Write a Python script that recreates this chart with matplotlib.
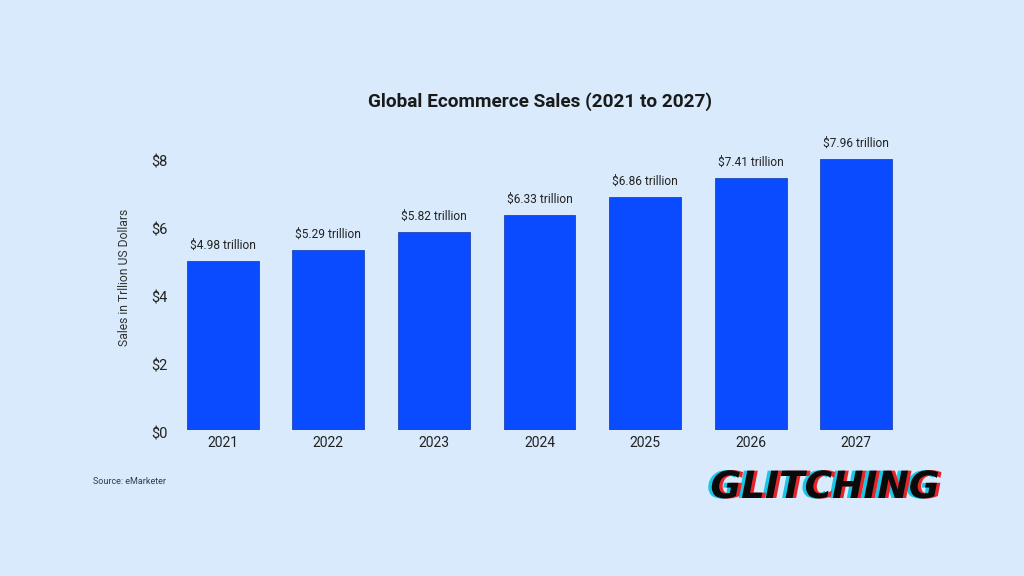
import matplotlib
matplotlib.use("Agg")
import matplotlib.pyplot as plt
import matplotlib.patheffects as pe
from matplotlib.transforms import ScaledTranslation

years = ["2021", "2022", "2023", "2024", "2025", "2026", "2027"]
sales = [4.98, 5.29, 5.82, 6.33, 6.86, 7.41, 7.96]
value_labels = ["$4.98 trillion", "$5.29 trillion", "$5.82 trillion", "$6.33 trillion",
                "$6.86 trillion", "$7.41 trillion", "$7.96 trillion"]
yticks = [0, 2, 4, 6, 8]
ytick_labels = ["$0", "$2", "$4", "$6", "$8"]

plt.rcParams['font.family'] = ['Roboto', 'DejaVu Sans']
bg = "#D8EAFB"
W, H = 1024, 576
fig = plt.figure(figsize=(W / 100, H / 100), dpi=100, facecolor=bg)

left, right, bottom_px, unit = 170, 909, 430, 34.0
ymax = 9
ax = fig.add_axes([left / W, (H - bottom_px) / H, (right - left) / W, unit * ymax / H])
ax.set_facecolor(bg)
x = list(range(len(years)))
ax.bar(x, sales, width=0.68, color="#0A4BFF", edgecolor="#1D46B8", linewidth=0.6)
ax.set_xlim(-0.5, len(years) - 0.5)
ax.set_ylim(0, ymax)
ax.set_xticks(x)
ax.set_xticklabels(years, fontsize=10, color="#222222")
ax.set_yticks(yticks)
ax.set_yticklabels(ytick_labels, fontsize=10.5, color="#222222")
ax.tick_params(length=0, pad=4)
ax.tick_params(axis='y', pad=2)
for lab in ax.get_yticklabels():
    lab.set_transform(lab.get_transform() + ScaledTranslation(0, -3 / 100, fig.dpi_scale_trans))
for s in ax.spines.values():
    s.set_visible(False)
for xi, v, lab in zip(x, sales, value_labels):
    ax.text(xi, v + 0.27, lab, ha="center", va="bottom", fontsize=8.6, color="#222222")
ax.set_ylabel("Sales in Trllion US Dollars", fontsize=8.7, color="#333333", labelpad=14)

fig.text(540 / W, 1 - 102 / H, "Global Ecommerce Sales (2021 to 2027)", ha="center", va="center",
         fontsize=13.7, fontweight="bold", color="#1a1a1a")
fig.text(93 / W, 1 - 482 / H, "Source: eMarketer", ha="left", va="center", fontsize=6.5, color="#333a55")

# logo
fig.text(825 / W, 1 - 488 / H, "GLITCHING", ha="center", va="center", fontsize=27,
         fontweight="bold", fontstyle="italic", color="#0a0a0a", family=["DejaVu Sans"],
         path_effects=[pe.SimplePatchShadow(offset=(-2.5, 0), shadow_rgbFace="#19C6E6", alpha=1),
                       pe.SimplePatchShadow(offset=(2.5, 0), shadow_rgbFace="#E5252A", alpha=1),
                       pe.Normal()])

fig.savefig("out.png", dpi=100, facecolor=bg)
